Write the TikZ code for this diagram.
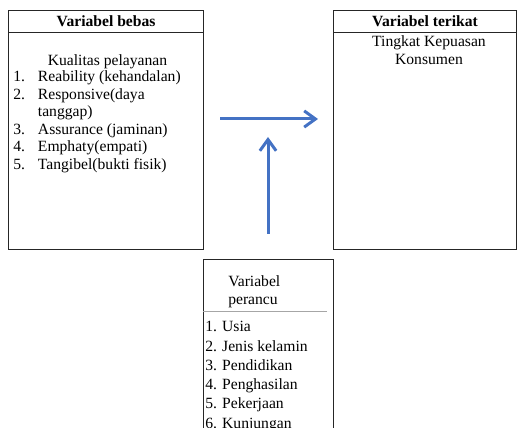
\documentclass[tikz,border=0pt]{standalone}
\usepackage{fontspec}
\setmainfont{Liberation Serif}
\usetikzlibrary{arrows.meta}

\definecolor{linkblue}{HTML}{4472C4}

\tikzset{
  box/.style={draw=black!85,line width=0.9pt,rectangle,inner sep=0pt,anchor=north west},
  head/.style={box,font=\fontsize{12.5}{14}\selectfont\bfseries},
  txt/.style={inner sep=0pt,font=\fontsize{12.5}{14}\selectfont},
  link/.style={draw=linkblue,line width=2.4pt,-{Straight Barb[length=9pt,width=13pt]}}
}

\begin{document}
\begin{tikzpicture}[x=0.8pt,y=-0.8pt]
\path [use as bounding box,clip] (0,0) rectangle (517,428);

\node [box,minimum width=156pt,minimum height=191.2pt]   (bebas)   at (8,10)  {};
\node [head,minimum width=156pt,minimum height=17.6pt]   (bebashd) at (8,10)  {Variabel bebas};
\node [box,minimum width=146.4pt,minimum height=191.2pt] (terikat)   at (333,10) {};
\node [head,minimum width=146.4pt,minimum height=17.6pt] (terikathd) at (333,10) {Variabel terikat};
\node [box,minimum width=104pt,minimum height=150pt]     (perancu) at (203,259) {};

\node [txt,anchor=base] (kualitas) at (107.5,66) {Kualitas pelayanan};
\node [txt,anchor=base west] (bebaslist) at (13,82)
    {\begin{tabular}[t]{@{}l@{\hspace{10.4pt}}l@{}}
     1. & Reability (kehandalan)\\
     2. & Responsive(daya\\
        & tanggap)\\
     3. & Assurance (jaminan)\\
     4. & Emphaty(empati)\\
     5. & Tangibel(bukti fisik)
     \end{tabular}};

\node [txt,anchor=base] (kepuasan) at (429,47)
    {\begin{tabular}[t]{@{}c@{}}Tingkat Kepuasan\\ Konsumen\end{tabular}};

\node [txt,anchor=base west] (perancuhd) at (228,287)
    {\begin{tabular}[t]{@{}l@{}}Variabel\\ perancu\end{tabular}};
\draw [gray!70,line width=0.8pt] (203,312) -- (327,312);
\node [txt,anchor=base west] (peranculist) at (205,332)
    {\renewcommand{\arraystretch}{1.1}%
     \begin{tabular}[t]{@{}l@{}}
     1. Usia\\
     2. Jenis kelamin\\
     3. Pendidikan\\
     4. Penghasilan\\
     5. Pekerjaan\\
     6. Kunjungan
     \end{tabular}};

\coordinate (hstart) at (220,119);
\coordinate (hend)   at (318,119);
\coordinate (vstart) at (268,234);
\coordinate (vend)   at (268,137);
\draw [link] (hstart) -- (hend);
\draw [link] (vstart) -- (vend);
\end{tikzpicture}
\end{document}
